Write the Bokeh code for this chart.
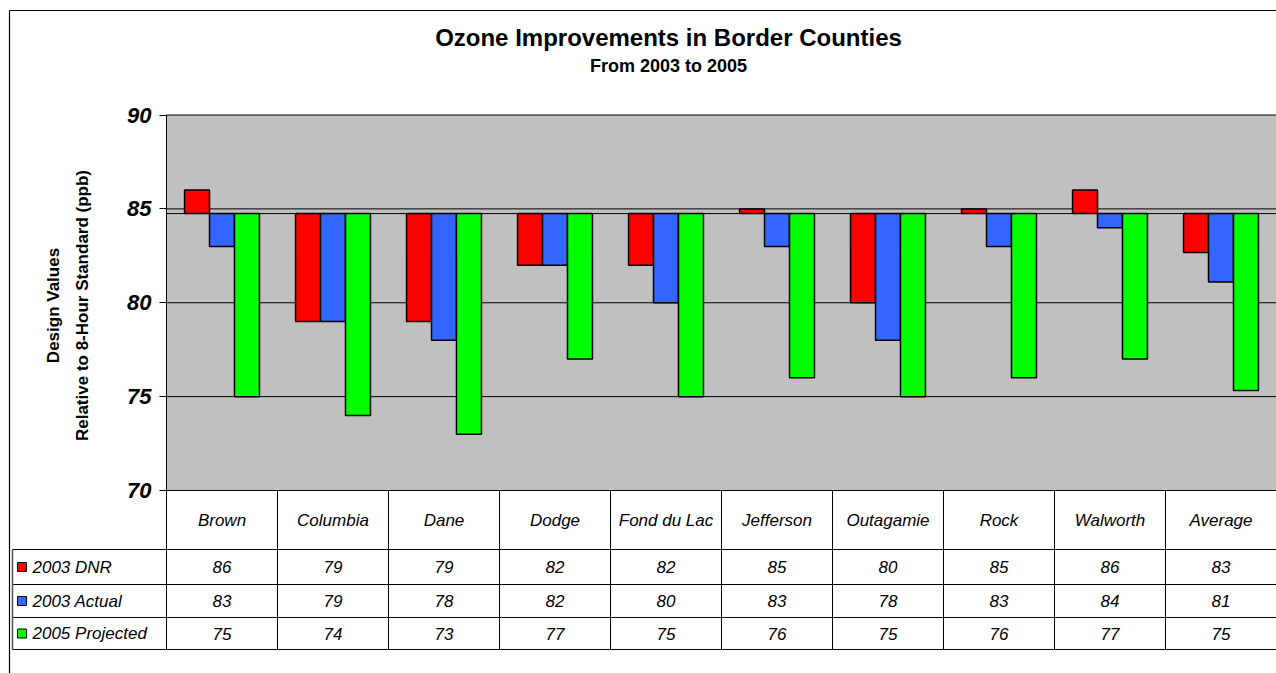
import numpy as np
from bokeh.plotting import figure
from bokeh.models import ColumnDataSource, Range1d, LinearAxis, FixedTicker, Label
from bokeh.core.properties import value
from bokeh.embed import file_html
from bokeh.resources import INLINE

# ---------------- data ----------------
counties = ["Brown", "Columbia", "Dane", "Dodge", "Fond du Lac", "Jefferson",
            "Outagamie", "Rock", "Walworth", "Average"]
dnr_2003 = [86, 79, 79, 82, 82, 85, 80, 85, 86, 82.67]
actual_2003 = [83, 79, 78, 82, 80, 83, 78, 83, 84, 81.11]
projected_2005 = [75, 74, 73, 77, 75, 76, 75, 76, 77, 75.33]
series_names = ["2003 DNR", "2003 Actual", "2005 Projected"]
series_colors = ["#FF0000", "#3366FF", "#00FF00"]
y_ticks = [70, 75, 80, 85, 90]
grid_values = [75, 80, 85]
baseline = 84.75
title_text = "Ozone Improvements in Border Counties"
subtitle_text = "From 2003 to 2005"
ylabel_1 = "Design Values"
ylabel_2 = "Relative to 8-Hour Standard (ppb)"

# ---------------- layout (pixels) ----------------
W, H = 1276, 673
PX0 = 166.0      # left edge of plot area
COLW = 111.0     # width of one category column
PY90 = 114.5     # pixel row of value 90
PPU = 18.775     # pixels per ppb
FONT = "Liberation Sans"


def xd(px):
    return (px - PX0) / COLW


def yd(py):
    return 90 - (py - PY90) / PPU


n = len(counties)
ymin, ymax = min(y_ticks), max(y_ticks)

p = figure(width=W, height=H, x_range=Range1d(xd(0), xd(W)),
           y_range=Range1d(yd(H), yd(0)), min_border=0,
           toolbar_location=None, output_backend="svg",
           x_axis_location=None, y_axis_location=None)
p.outline_line_color = None
p.background_fill_color = "white"
p.border_fill_color = "white"
for g in p.grid:
    g.visible = False

# plot background
p.quad(left=[0], right=[n], bottom=[ymin], top=[ymax],
       fill_color="#C0C0C0", line_color=None)

# grid lines
p.segment(x0=[0] * len(grid_values), x1=[n] * len(grid_values),
          y0=grid_values, y1=grid_values, line_color="black", line_width=1)

# bars
BW = 0.225
idx = np.arange(n) + 0.5
for k, (vals, color) in enumerate(zip([dnr_2003, actual_2003, projected_2005],
                                      series_colors)):
    src = ColumnDataSource(dict(x=idx + (k - 1) * BW, top=vals,
                                bottom=[baseline] * n))
    p.vbar(x="x", top="top", bottom="bottom", width=BW, source=src,
           fill_color=color, line_color="black", line_width=1.5)

# baseline (category axis crossing)
p.segment(x0=[0], x1=[n], y0=[baseline], y1=[baseline],
          line_color="black", line_width=1)

# frame lines (top and bottom of plot area)
p.segment(x0=[0, 0], x1=[n, n], y0=[ymax, ymin], y1=[ymax, ymin],
          line_color="black", line_width=1)

# ---------------- data table ----------------
row_edges_px = [490, 549, 584, 617, 649]
row_centers = [yd((row_edges_px[i] + row_edges_px[i + 1]) / 2) for i in range(4)]
table_bottom = yd(row_edges_px[-1])

# vertical lines of table (column borders)
cols = list(range(n + 1))
p.segment(x0=cols, x1=cols, y0=[table_bottom] * len(cols), y1=[ymin] * len(cols),
          line_color="black", line_width=1)
# plot-area left edge
p.segment(x0=[0], x1=[0], y0=[ymin], y1=[ymax], line_color="black", line_width=1)
# horizontal lines of table
hl = [yd(v) for v in row_edges_px[1:]]
p.segment(x0=[xd(12)] * len(hl), x1=[n] * len(hl), y0=hl, y1=hl,
          line_color="black", line_width=1)
# table left border
p.segment(x0=[xd(12)], x1=[xd(12)], y0=[yd(549)], y1=[table_bottom],
          line_color="#555555", line_width=1.5)
# outer chart border
p.segment(x0=[xd(9), xd(9)], x1=[xd(9), xd(W)], y0=[yd(10), yd(10)],
          y1=[yd(H), yd(10)], line_color="black", line_width=1.2)

# category labels
p.text(x=idx, y=[row_centers[0]] * n, text=counties,
       text_font=value(FONT), text_font_style="italic", text_font_size="17px",
       text_align="center", text_baseline="middle", text_color="black")

# values
for k, vals in enumerate([dnr_2003, actual_2003, projected_2005]):
    p.text(x=idx, y=[row_centers[k + 1]] * n, text=[f"{v:.0f}" for v in vals],
           text_font=value(FONT), text_font_style="italic", text_font_size="17px",
           text_align="center", text_baseline="middle", text_color="black")

# legend keys and labels
p.scatter(x=[xd(21.5)] * 3, y=row_centers[1:], marker="square", size=9,
          fill_color=series_colors, line_color="black", line_width=1)
p.text(x=[xd(32)] * 3, y=row_centers[1:], text=series_names,
       text_font=value(FONT), text_font_style="italic", text_font_size="17px",
       text_align="left", text_baseline="middle", text_color="black")

# ---------------- y axis ----------------
yax = LinearAxis(fixed_location=0, ticker=FixedTicker(ticks=y_ticks),
                 axis_line_color=None, major_tick_out=7, major_tick_in=0,
                 major_tick_line_color="black", minor_tick_line_color=None,
                 major_label_standoff=8,
                 major_label_text_font=FONT,
                 major_label_text_font_style="bold italic",
                 major_label_text_font_size="22px",
                 major_label_text_color="black")
p.add_layout(yax, "left")

# ---------------- titles ----------------
p.add_layout(Label(x=xd(668), y=yd(37), text=title_text, text_align="center",
                   text_baseline="middle", text_font=FONT,
                   text_font_style="bold", text_font_size="24px",
                   text_color="black"))
p.add_layout(Label(x=xd(668), y=yd(65), text=subtitle_text, text_align="center",
                   text_baseline="middle", text_font=FONT,
                   text_font_style="bold", text_font_size="18px",
                   text_color="black"))
p.add_layout(Label(x=xd(53), y=yd(305), text=ylabel_1, text_align="center",
                   text_baseline="middle", text_font=FONT, angle=np.pi / 2,
                   text_font_style="bold", text_font_size="17px",
                   text_color="black"))
p.add_layout(Label(x=xd(82), y=yd(305), text=ylabel_2, text_align="center",
                   text_baseline="middle", text_font=FONT, angle=np.pi / 2,
                   text_font_style="bold", text_font_size="17px",
                   text_color="black"))

open("out.html", "w").write(file_html(p, INLINE))
